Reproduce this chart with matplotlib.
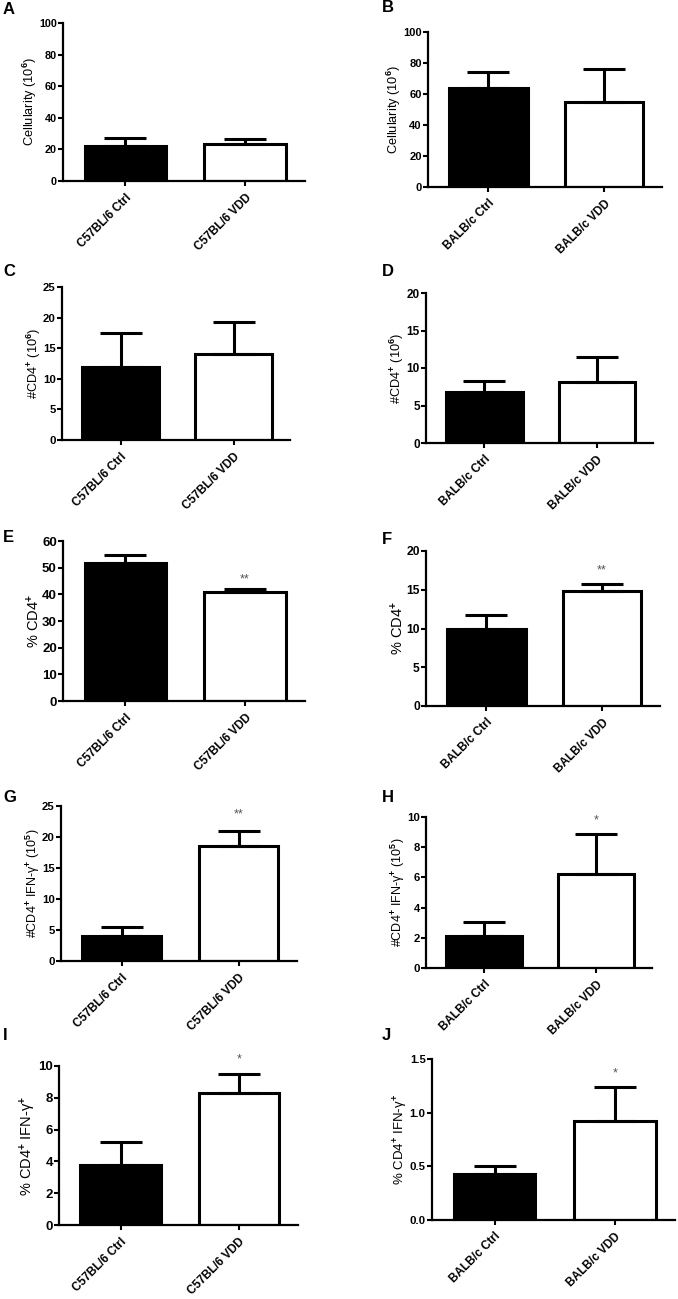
import matplotlib
matplotlib.use('Agg')
import matplotlib.pyplot as plt
import numpy as np

plt.rcParams['font.family'] = ['Liberation Sans', 'DejaVu Sans']
plt.rcParams['font.weight'] = 'bold'
plt.rcParams['mathtext.fontset'] = 'custom'
plt.rcParams['mathtext.rm'] = 'Liberation Sans:bold'
plt.rcParams['mathtext.it'] = 'Liberation Sans:bold'
plt.rcParams['mathtext.bf'] = 'Liberation Sans:bold'

# group names
c57_groups = ['C57BL/6 Ctrl', 'C57BL/6 VDD']
balb_groups = ['BALB/c Ctrl', 'BALB/c VDD']

# mean and upper error (SEM) per panel
cell_c57 = [22.4, 23.2]
cell_c57_err = [5.0, 3.2]
cell_balb = [63.6, 54.7]
cell_balb_err = [10.4, 21.4]

cd4_c57 = [11.9, 14.1]
cd4_c57_err = [5.6, 5.1]
cd4_balb = [6.8, 8.1]
cd4_balb_err = [1.5, 3.4]

pct_cd4_c57 = [51.9, 41.0]
pct_cd4_c57_err = [2.8, 0.9]
pct_cd4_balb = [9.9, 14.8]
pct_cd4_balb_err = [1.9, 0.9]

ifng_c57 = [4.1, 18.5]
ifng_c57_err = [1.4, 2.5]
ifng_balb = [2.15, 6.2]
ifng_balb_err = [0.9, 2.7]

pct_ifng_c57 = [3.8, 8.3]
pct_ifng_c57_err = [1.45, 1.2]
pct_ifng_balb = [0.43, 0.92]
pct_ifng_balb_err = [0.07, 0.32]

# significance marks (label, y position) for the VDD bar
sig_E = ('**', 45.4)
sig_F = ('**', 17.5)
sig_G = ('**', 23.7)
sig_H = ('*', 9.75)
sig_I = ('*', 10.4)
sig_J = ('*', 1.37)

lbl_cell = r'Cellularity (10$^{6}$)'
lbl_cd4 = r'#CD4$^{+}$ (10$^{6}$)'
lbl_pct = r'% CD4$^{+}$'
lbl_ifng = r'#CD4$^{+}$ IFN-γ$^{+}$ (10$^{5}$)'
lbl_pct_ifng = r'% CD4$^{+}$ IFN-γ$^{+}$'

W, H = 678, 1299

# letter, groups, means, errs, ylabel, ymax, ystep, sig,
# axes box in px (left, top, right, bottom), label size, tick size
panels = [
    ('A', c57_groups, cell_c57, cell_c57_err, lbl_cell, 100, 20, None, (63, 23, 305, 181), 9.2, 7.8),
    ('B', balb_groups, cell_balb, cell_balb_err, lbl_cell, 100, 20, None, (428, 32, 662, 187), 9.2, 8),
    ('C', c57_groups, cd4_c57, cd4_c57_err, lbl_cd4, 25, 5, None, (62, 287, 290, 440), 9.2, 8.2),
    ('D', balb_groups, cd4_balb, cd4_balb_err, lbl_cd4, 20, 5, None, (426, 293, 653, 443), 9.2, 8.5),
    ('E', c57_groups, pct_cd4_c57, pct_cd4_c57_err, lbl_pct, 60, 10, sig_E, (63, 541, 305, 701), 10.5, 9.5),
    ('F', balb_groups, pct_cd4_balb, pct_cd4_balb_err, lbl_pct, 20, 5, sig_F, (426, 551, 660, 706), 10.5, 8.7),
    ('G', c57_groups, ifng_c57, ifng_c57_err, lbl_ifng, 25, 5, sig_G, (61, 806, 297, 961), 9, 8.2),
    ('H', balb_groups, ifng_balb, ifng_balb_err, lbl_ifng, 10, 2, sig_H, (426, 817, 652, 968), 9, 8.2),
    ('I', c57_groups, pct_ifng_c57, pct_ifng_c57_err, lbl_pct_ifng, 10, 2, sig_I, (59, 1066, 298, 1225), 10.5, 9.5),
    ('J', balb_groups, pct_ifng_balb, pct_ifng_balb_err, lbl_pct_ifng, 1.5, 0.5, sig_J, (432, 1059, 675, 1220), 9.5, 8.2),
]

# letter positions in px
letter_pos = {'A': (3, 9), 'B': (382, 8), 'C': (3, 272), 'D': (382, 271),
              'E': (3, 538), 'F': (382, 539), 'G': (3, 798), 'H': (382, 797),
              'I': (3, 1035), 'J': (382, 1035)}

fig = plt.figure(figsize=(W / 100, H / 100), dpi=100)

for letter, groups, means, errs, ylabel, ymax, ystep, sig, box, lsize, tsize in panels:
    l, t, r, b = box
    ax = fig.add_axes([l / W, 1 - b / H, (r - l) / W, (b - t) / H])
    x = np.arange(len(groups))
    ax.bar(x, means, width=0.68, color=['black', 'white'], edgecolor='black', linewidth=2.2, zorder=2)
    ax.errorbar(x, means, yerr=[np.zeros(len(errs)), errs], fmt='none', ecolor='black',
                elinewidth=2.2, capsize=15, capthick=2.2, zorder=3)
    if sig is not None:
        ax.text(1, sig[1], sig[0], ha='center', va='center', fontsize=9, color='#555555',
                fontweight='normal', clip_on=False)
    ax.set_xlim(-0.52, 1.5)
    ax.set_ylim(0, ymax)
    ticks = np.arange(0, ymax + ystep / 2, ystep)
    ax.set_yticks(ticks)
    if ystep < 1:
        ax.set_yticklabels(['%.1f' % v for v in ticks])
    else:
        ax.set_yticklabels(['%d' % v for v in ticks])
    ax.set_xticks(x)
    ax.set_xticklabels(groups, rotation=45, ha='right', rotation_mode='anchor', fontsize=8.5)
    ax.tick_params(axis='y', labelsize=tsize, width=1.5, length=3.5, pad=1)
    ax.tick_params(axis='x', width=1.5, length=3.5, pad=4)
    ax.set_ylabel(ylabel, fontsize=lsize, labelpad=0)
    for side in ['top', 'right']:
        ax.spines[side].set_visible(False)
    for side in ['left', 'bottom']:
        ax.spines[side].set_linewidth(1.6)
    lx, ly = letter_pos[letter]
    fig.text(lx / W, 1 - ly / H, letter, ha='left', va='center', fontsize=12, fontweight='bold')

fig.savefig('out.png', dpi=100)
